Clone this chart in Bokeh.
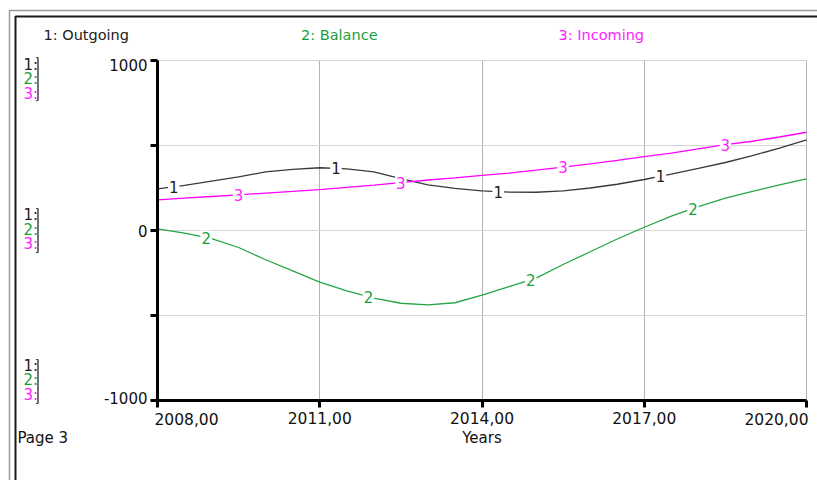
import numpy as np
from bokeh.plotting import figure
from bokeh.models import (ColumnDataSource, FixedTicker, Label, BoxAnnotation,
                          PolyAnnotation, Range1d)
from bokeh.embed import file_html
from bokeh.resources import INLINE
from bokeh.core.properties import value

# ---------------- data ----------------
years = [2008.0, 2008.5, 2009.0, 2009.5, 2010.0, 2010.5, 2011.0, 2011.5, 2012.0,
         2012.5, 2013.0, 2013.5, 2014.0, 2014.5, 2015.0, 2015.5, 2016.0, 2016.5,
         2017.0, 2017.5, 2018.0, 2018.5, 2019.0, 2019.5, 2020.0]
outgoing = [245, 265, 290, 315, 345, 360, 369, 362, 345, 305, 268, 248, 233,
            226, 225, 233, 250, 272, 300, 332, 365, 400, 440, 485, 533]
balance = [10, -15, -48, -100, -172, -238, -304, -355, -398, -428, -438, -425,
           -380, -330, -280, -200, -125, -50, 19, 85, 140, 190, 230, 268, 304]
incoming = [180, 190, 200, 210, 220, 230, 241, 254, 267, 282, 297, 310, 324,
            338, 355, 373, 392, 412, 435, 455, 480, 505, 525, 550, 578]

series_names = ["1: Outgoing", "2: Balance", "3: Incoming"]
series_ids = ["1", "2", "3"]
label_years_1 = [2008.3, 2011.3, 2014.3, 2017.3]
label_years_2 = [2008.9, 2011.9, 2014.9, 2017.9]
label_years_3 = [2009.5, 2012.5, 2015.5, 2018.5]

x_ticks = [2008, 2011, 2014, 2017, 2020]
x_tick_labels = ["2008,00", "2011,00", "2014,00", "2017,00", "2020,00"]
y_ticks = [-1000, -500, 0, 500, 1000]
y_min, y_max = -1000, 1000
x_label = "Years"
page_label = "Page 3"

# ---------------- layout / styles ----------------
FONT = "DejaVu Sans"
FS = "15px"
FS_X = "15.5px"
C_OUT = "#3a3a3a"
C_BAL = "#25a544"
C_INC = "#ff00ff"
C_OUT_T = "#222222"
C_BAL_T = "#1a9e3c"
C_INC_T = "#ff1eff"
TXT = "#111111"

W, H = 817, 480
# pixel anchors of the plotting area inside the canvas
PX_L, PX_R, PX_T, PX_B = 157, 806, 60, 400
kx = (PX_R - PX_L) / (x_ticks[-1] - x_ticks[0])
ky = (PX_B - PX_T) / (y_max - y_min)
x_rng = Range1d(x_ticks[0] - PX_L / kx, x_ticks[-1] + (W - PX_R) / kx)
y_rng = Range1d(y_min - (H - PX_B) / ky, y_max + PX_T / ky)

p = figure(width=W, height=H, output_backend="svg", toolbar_location=None,
           x_range=x_rng, y_range=y_rng, min_border=0,
           background_fill_color="white", border_fill_color="white")
p.outline_line_color = None

# axes drawn at fixed locations inside the full-canvas frame
xa = p.xaxis[0]
ya = p.yaxis[0]
xa.fixed_location = y_min
ya.fixed_location = x_ticks[0]
xa.bounds = (x_ticks[0], x_ticks[-1])
ya.bounds = (y_min, y_max)
xa.ticker = FixedTicker(ticks=x_ticks)
ya.ticker = FixedTicker(ticks=y_ticks)
xa.major_label_overrides = {t: (l if 0 < i < len(x_ticks) - 1 else "")
                            for i, (t, l) in enumerate(zip(x_ticks, x_tick_labels))}
ya.major_label_overrides = {t: ("0" if t == 0 else "") for t in y_ticks}
for ax in (xa, ya):
    ax.axis_line_width = 3
    ax.axis_line_color = "black"
    ax.major_tick_line_width = 3
    ax.major_tick_line_color = "black"
    ax.major_tick_out = 7
    ax.major_tick_in = 0
    ax.minor_tick_line_color = None
    ax.major_label_text_font = FONT
    ax.major_label_text_color = TXT
xa.major_label_text_font_size = FS_X
ya.major_label_text_font_size = FS
xa.major_label_standoff = 4
ya.major_label_standoff = 3
xa.axis_label = x_label
xa.axis_label_text_font = FONT
xa.axis_label_text_font_size = FS
xa.axis_label_text_font_style = "normal"
xa.axis_label_text_color = TXT
xa.axis_label_standoff = 2

p.xgrid.grid_line_color = "#b4b4b4"
p.ygrid.grid_line_color = "#d4d4d4"
p.xgrid.cross_bounds = (y_min, y_max)
p.ygrid.cross_bounds = (x_ticks[0], x_ticks[-1])
p.xgrid.bounds = (x_ticks[0], x_ticks[-1])
p.ygrid.bounds = (y_min, y_max)

# lines
src = ColumnDataSource(dict(year=years, outgoing=outgoing, balance=balance,
                            incoming=incoming))
p.line("year", "outgoing", source=src, line_color=C_OUT, line_width=1.3)
p.line("year", "balance", source=src, line_color=C_BAL, line_width=1.3)
p.line("year", "incoming", source=src, line_color=C_INC, line_width=1.3)

# on-line number labels
for sid, ly, col, tcol in ((series_ids[0], label_years_1, outgoing, C_OUT_T),
                           (series_ids[1], label_years_2, balance, C_BAL_T),
                           (series_ids[2], label_years_3, incoming, C_INC_T)):
    yy = np.interp(ly, years, col)
    p.text(x=ly, y=list(yy), text=[sid] * len(ly), text_align="center",
           text_baseline="middle", text_font=value(FONT), text_font_size=FS,
           text_color=tcol, background_fill_color="white", padding=1)

# screen helpers (frame == canvas; screen y measured from bottom)
def sx(cx):
    return cx

def sy(cy):
    return H - cy

def add_label(text, cx, cy, color=TXT, align="left", baseline="middle", size=FS):
    p.add_layout(Label(x=sx(cx), y=sy(cy), x_units="screen", y_units="screen",
                       text=text, text_font=FONT, text_font_size=size,
                       text_color=color, text_align=align, text_baseline=baseline))

# series titles
add_label(series_names[0], 43, 34, C_OUT_T, size="14.5px")
add_label(series_names[1], 300.5, 34, C_BAL_T, size="14.5px")
add_label(series_names[2], 558, 34, C_INC_T, size="14.5px")

# scale keys on the left
for ys in ((64, 78.5, 93), (214.5, 229, 243.5), (365, 379.5, 394)):
    for sid, yk, c in zip(series_ids, ys, (C_OUT_T, C_BAL_T, C_INC_T)):
        add_label(sid + ":", 23, yk, c)
for (y0, y1) in ((57, 100), (208, 252), (359, 403)):
    p.add_layout(PolyAnnotation(
        xs=[sx(35.5), sx(37.5), sx(37.5), sx(35.5), sx(37.5), sx(37.5)],
        ys=[sy(y0), sy(y0), sy(y1), sy(y1), sy(y1), sy(y0)],
        xs_units="screen", ys_units="screen", fill_color=None,
        line_color="#444444", line_alpha=1.0, line_width=1))

add_label(page_label, 17, 437.5)

# y tick labels at the ends
p.add_layout(Label(x=x_ticks[0], y=y_max, x_offset=-10, y_offset=-4, text=str(y_max),
                   text_font=FONT, text_font_size=FS, text_color=TXT,
                   text_align="right", text_baseline="middle"))
p.add_layout(Label(x=x_ticks[0], y=y_min, x_offset=-10, y_offset=2.5, text=str(y_min),
                   text_font=FONT, text_font_size=FS, text_color=TXT,
                   text_align="right", text_baseline="middle"))
# x tick labels at the ends
p.add_layout(Label(x=x_ticks[0], y=y_min, x_offset=-3, y_offset=-18,
                   text=x_tick_labels[0], text_font=FONT, text_font_size=FS_X,
                   text_color=TXT, text_align="left", text_baseline="middle"))
p.add_layout(Label(x=x_ticks[-1], y=y_min, x_offset=2, y_offset=-18,
                   text=x_tick_labels[-1], text_font=FONT, text_font_size=FS_X,
                   text_color=TXT, text_align="right", text_baseline="middle"))

# page frame (double border)
p.add_layout(BoxAnnotation(left=sx(9), right=sx(W + 20), top=sy(10), bottom=sy(H + 20),
                           left_units="screen", right_units="screen",
                           top_units="screen", bottom_units="screen",
                           fill_color=None, fill_alpha=0, line_color="#9a9a9a",
                           line_alpha=1.0, line_width=1.5))
p.add_layout(BoxAnnotation(left=sx(15), right=sx(W + 20), top=sy(16), bottom=sy(H + 20),
                           left_units="screen", right_units="screen",
                           top_units="screen", bottom_units="screen",
                           fill_color=None, fill_alpha=0, line_color="#1a1a1a",
                           line_alpha=1.0, line_width=2))

open("out.html", "w").write(file_html(p, INLINE))
